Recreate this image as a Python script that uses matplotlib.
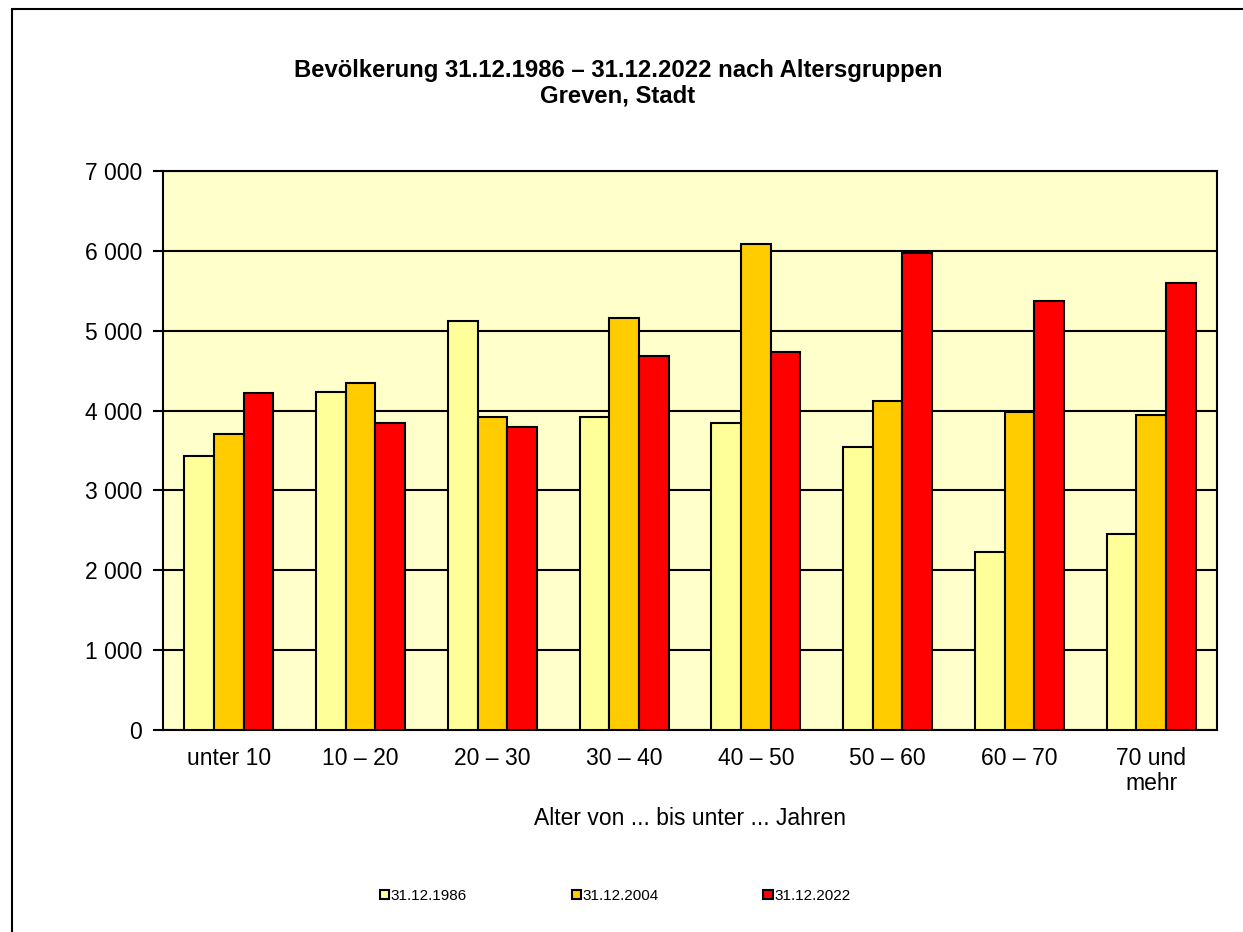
import numpy as np
import matplotlib
matplotlib.use("Agg")
import matplotlib.pyplot as plt
import matplotlib.patches as patches
from matplotlib.ticker import FuncFormatter

plt.rcParams['font.family'] = ['Liberation Sans', 'DejaVu Sans']

# Data
categories = ['unter 10', '10 – 20', '20 – 30', '30 – 40', '40 – 50',
              '50 – 60', '60 – 70', '70 und\nmehr']
series_labels = ['31.12.1986', '31.12.2004', '31.12.2022']
pop_1986 = [3430, 4230, 5120, 3920, 3840, 3540, 2230, 2450]
pop_2004 = [3710, 4340, 3920, 5160, 6080, 4120, 3980, 3950]
pop_2022 = [4220, 3840, 3800, 4680, 4740, 5970, 5370, 5600]
colors = ['#FFFF99', '#FFCC00', '#FF0000']

fig = plt.figure(figsize=(12.43, 9.32), dpi=100)
ax = fig.add_axes([0.1311, 0.2167, 0.848, 0.5998])
ax.set_facecolor('#FFFFCC')

x = np.arange(len(categories))
w = 0.225
for i, (vals, c, lab) in enumerate(zip([pop_1986, pop_2004, pop_2022], colors, series_labels)):
    ax.bar(x + (i - 1) * w, vals, width=w, color=c, edgecolor='black',
           linewidth=1.5, label=lab, zorder=3)

ax.set_xlim(-0.5, len(categories) - 0.5)
ax.set_ylim(0, 7000)
ax.set_yticks(range(0, 7001, 1000))
ax.yaxis.set_major_formatter(FuncFormatter(lambda v, p: f"{int(v):,}".replace(',', ' ')))
ax.grid(axis='y', color='black', linewidth=1.5, zorder=1)
ax.set_xticks(x)
ax.set_xticklabels(categories, fontsize=16.5, linespacing=1.15)
ax.tick_params(axis='x', length=0, pad=12)
ax.tick_params(axis='y', length=7, width=1.5, labelsize=16.5, pad=8, direction='out')
for s in ax.spines.values():
    s.set_linewidth(1.5)

ax.set_xlabel('Alter von ... bis unter ... Jahren', fontsize=16.5, labelpad=8)

fig.text(0.497, 1 - 70 / 932, 'Bevölkerung 31.12.1986 – 31.12.2022 nach Altersgruppen',
         ha='center', va='center', fontsize=17.2, fontweight='bold')
fig.text(0.497, 1 - 96 / 932, 'Greven, Stadt',
         ha='center', va='center', fontsize=17.2, fontweight='bold')

leg = fig.legend(loc='center', bbox_to_anchor=(0.495, 1 - 896 / 932), ncol=3,
                 frameon=False, fontsize=11, handlelength=0.6, handleheight=0.6,
                 handletextpad=0.1, columnspacing=6.85)
for h in leg.legend_handles:
    h.set_linewidth(1.5)

# outer chart frame
fig.patches.append(patches.Rectangle((12 / 1243, -0.05), 1.1, 1 - 9 / 932 + 0.05,
                                     transform=fig.transFigure, fill=False,
                                     edgecolor='black', linewidth=1.5))

fig.savefig('out.png', dpi=100)
